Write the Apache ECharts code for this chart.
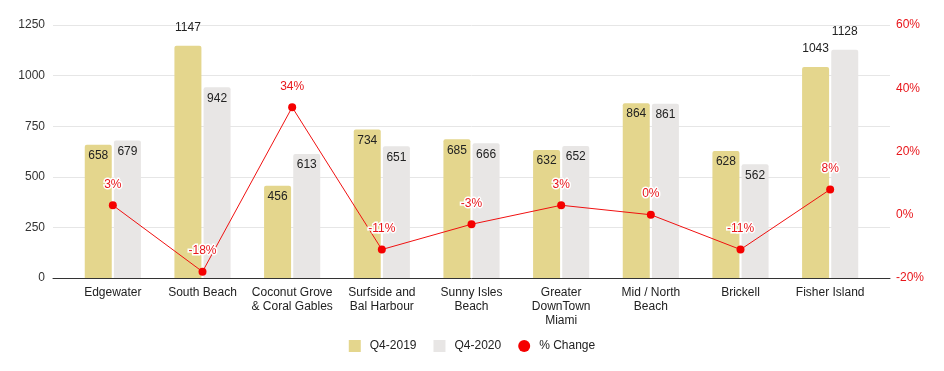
<!DOCTYPE html>
<html><head><meta charset="utf-8">
<script src="https://cdn.jsdelivr.net/npm/echarts@6/dist/echarts.min.js"></script>
<style>html,body{margin:0;padding:0;background:#fff}#c{width:944px;height:371px}</style>
</head><body><div id="c"></div>
<script>
const categories = ["Edgewater","South Beach","Coconut Grove\n& Coral Gables","Surfside and\nBal Harbour","Sunny Isles\nBeach","Greater\nDownTown\nMiami","Mid / North\nBeach","Brickell","Fisher Island"];
const q42019 = [658,1147,456,734,685,632,864,628,1043];
const q42020 = [679,942,613,651,666,652,861,562,1128];
const pctChange = [3,-18,34,-11,-3,3,0,-11,8];
const leftTicks = {min:0,max:1250,interval:250};
const rightTicks = {min:-20,max:60,interval:20};
const labelAbove = {1147:true,1043:true,1128:true};

const chart = echarts.init(document.getElementById('c'));
const FONT = '"Liberation Sans", Arial, sans-serif';
function barData(arr){
  return arr.map(v => ({value:v, label: labelAbove[v] ? {position:'top',distance:12} : {position:'insideTop',distance:5}}));
}
chart.setOption({
  animation:false,
  textStyle:{fontFamily:FONT},
  grid:[
    {left:53,right:54,top:25,bottom:93},
    {left:68,right:69,top:25,bottom:93}
  ],
  legend:{
    bottom:14,left:'center',itemWidth:12,itemHeight:12,itemGap:17,
    textStyle:{fontFamily:FONT,fontSize:12,color:'#222',padding:[0,0,0,4]},
    data:[{name:'Q4-2019',icon:'rect'},{name:'Q4-2020',icon:'rect'},{name:'% Change',icon:'circle'}]
  },
  xAxis:[
    {type:'category',gridIndex:0,data:[''],axisLine:{lineStyle:{color:'#333',width:1}},axisTick:{show:false},axisLabel:{show:false}},
    {type:'category',gridIndex:1,data:categories,axisLine:{show:false},axisTick:{show:false},
     axisLabel:{interval:0,color:'#222',fontSize:12,fontFamily:FONT,lineHeight:14,margin:8}}
  ],
  yAxis:[
    {type:'value',gridIndex:0,position:'left',min:leftTicks.min,max:leftTicks.max,interval:leftTicks.interval,
     axisLine:{show:false},axisTick:{show:false},splitLine:{lineStyle:{color:'#e6e6e6'}},
     axisLabel:{color:'#333',fontSize:12,fontFamily:FONT,margin:8,formatter:v=>String(v)}},
    {type:'value',gridIndex:0,position:'right',min:rightTicks.min,max:rightTicks.max,interval:rightTicks.interval,
     axisLine:{show:false},axisTick:{show:false},splitLine:{show:false},
     axisLabel:{color:'#e8161b',fontSize:12,fontFamily:FONT,margin:6,formatter:'{value}%'}},
    {type:'value',gridIndex:1,min:leftTicks.min,max:leftTicks.max,show:false},
    {type:'value',gridIndex:1,min:rightTicks.min,max:rightTicks.max,show:false}
  ],
  series:[
    {name:'Q4-2019',type:'bar',xAxisIndex:1,yAxisIndex:2,data:barData(q42019),barWidth:27,barGap:'8%',
     itemStyle:{color:'#e4d68d',borderRadius:[2,2,0,0]},
     label:{show:true,color:'#222',fontSize:12,fontFamily:FONT}},
    {name:'Q4-2020',type:'bar',xAxisIndex:1,yAxisIndex:2,data:barData(q42020),barWidth:27,
     itemStyle:{color:'#e8e6e5',borderRadius:[2,2,0,0]},
     label:{show:true,color:'#222',fontSize:12,fontFamily:FONT}},
    {name:'% Change',type:'line',xAxisIndex:1,yAxisIndex:3,data:pctChange,symbol:'circle',symbolSize:8,
     lineStyle:{color:'#f01010',width:1},itemStyle:{color:'#f50000'},z:5,
     label:{show:true,position:'top',distance:11,formatter:'{c}%',color:'#e8161b',fontSize:12,fontFamily:FONT,
       textBorderColor:'#fff',textBorderWidth:3}}
  ]
});
</script></body></html>
